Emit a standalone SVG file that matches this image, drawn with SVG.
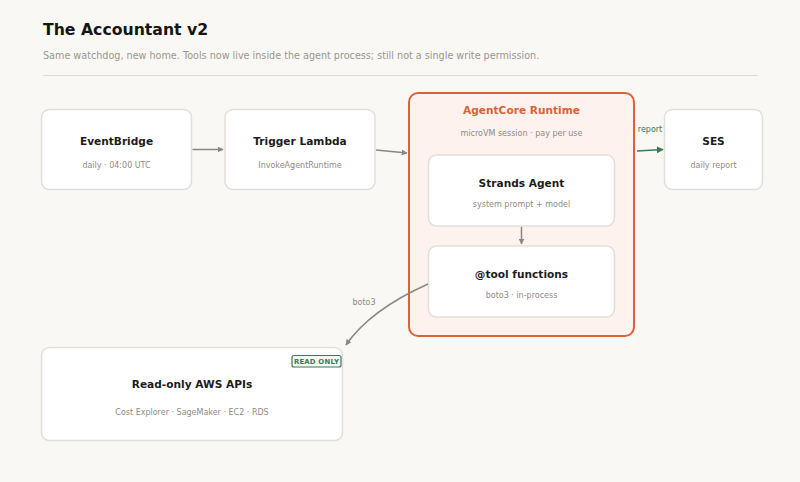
<svg xmlns="http://www.w3.org/2000/svg" width="800" height="482" viewBox="0 0 800 482">
<defs>
<style>
text{font-family:"DejaVu Sans","Liberation Sans",sans-serif}
.node{fill:#ffffff;stroke:#e3ded7;stroke-width:1.5}
.t{font-size:10.6px;font-weight:bold;fill:#1c1c1c;text-anchor:middle}
.s{font-size:8px;fill:#8e8a85;text-anchor:middle}
.edge{fill:none;stroke:#8a8782;stroke-width:1.5}
.green{stroke:#3b7a58}
.lbl{font-size:8px;fill:#8e8a85}
</style>
<marker id="ah" viewBox="0 0 10 10" refX="9" refY="5" markerWidth="6" markerHeight="6" orient="auto" markerUnits="userSpaceOnUse"><path d="M0,0 L10,5 L0,10 z" fill="#8a8782"/></marker>
<marker id="ahg" viewBox="0 0 10 10" refX="9" refY="5" markerWidth="7" markerHeight="7" orient="auto" markerUnits="userSpaceOnUse"><path d="M0,0 L10,5 L0,10 z" fill="#3b7a58"/></marker>
</defs>
<rect width="800" height="482" fill="#f9f8f5"/>
<g id="header">
<text x="43" y="35" style="font-size:15.7px;font-weight:bold;fill:#151515">The Accountant v2</text>
<text x="43" y="59" style="font-size:9.65px;fill:#9a9690">Same watchdog, new home. Tools now live inside the agent process; still not a single write permission.</text>
<line x1="43" y1="75.5" x2="758" y2="75.5" stroke="#dedad4" stroke-width="1"/>
</g>
<g id="agentcore">
<rect x="409" y="93" width="225" height="243" rx="9" fill="#fdf2ed" stroke="#dc6236" stroke-width="2"/>
<text x="521.5" y="114" style="font-size:10.6px;font-weight:bold;fill:#dc6236;text-anchor:middle">AgentCore Runtime</text>
<text x="521.5" y="136" class="s">microVM session · pay per use</text>
</g>
<g id="eventbridge">
<rect class="node" x="41.5" y="109.5" width="150" height="80" rx="8"/>
<text class="t" x="116.5" y="145">EventBridge</text>
<text class="s" x="116.5" y="168">daily · 04:00 UTC</text>
</g>
<g id="lambda">
<rect class="node" x="225" y="109.5" width="150" height="80" rx="8"/>
<text class="t" x="300" y="145">Trigger Lambda</text>
<text class="s" x="300" y="168">InvokeAgentRuntime</text>
</g>
<g id="strands">
<rect class="node" x="428.5" y="155" width="186" height="71" rx="8"/>
<text class="t" x="521.5" y="187">Strands Agent</text>
<text class="s" x="521.5" y="207">system prompt + model</text>
</g>
<g id="tools">
<rect class="node" x="428.5" y="246" width="186" height="71" rx="8"/>
<text class="t" x="521.5" y="278">@tool functions</text>
<text class="s" x="521.5" y="298">boto3 · in-process</text>
</g>
<g id="ses">
<rect class="node" x="664.5" y="109.5" width="98" height="80" rx="8"/>
<text class="t" x="713.5" y="145">SES</text>
<text class="s" x="713.5" y="168">daily report</text>
</g>
<g id="readonly">
<rect class="node" x="41.5" y="347.5" width="301" height="93" rx="8"/>
<text class="t" x="192" y="388">Read-only AWS APIs</text>
<text class="s" x="192" y="415">Cost Explorer · SageMaker · EC2 · RDS</text>
<rect x="292" y="355.5" width="49" height="11.5" rx="2" fill="#f3f8f4" stroke="#3b7a58" stroke-width="1.2"/>
<text x="316.5" y="364.2" style="font-size:6.9px;font-weight:bold;fill:#3b7a58;text-anchor:middle;letter-spacing:0.2px">READ ONLY</text>
</g>
<g id="connectors">
<line class="edge" x1="192.5" y1="149.5" x2="223" y2="149.5" marker-end="url(#ah)"/>
<line class="edge" x1="376" y1="150" x2="407" y2="153" marker-end="url(#ah)"/>
<line class="edge" x1="521.5" y1="227" x2="521.5" y2="244" marker-end="url(#ah)"/>
<line class="edge green" x1="637" y1="151" x2="663" y2="149.5" stroke-width="2" marker-end="url(#ahg)"/>
<text x="650" y="132" style="font-size:8px;fill:#3b7a58;text-anchor:middle">report</text>
<path class="edge" d="M428,284 Q370,310 346,345" marker-end="url(#ah)"/>
<text class="lbl" x="364" y="305" text-anchor="middle">boto3</text>
</g>
</svg>
